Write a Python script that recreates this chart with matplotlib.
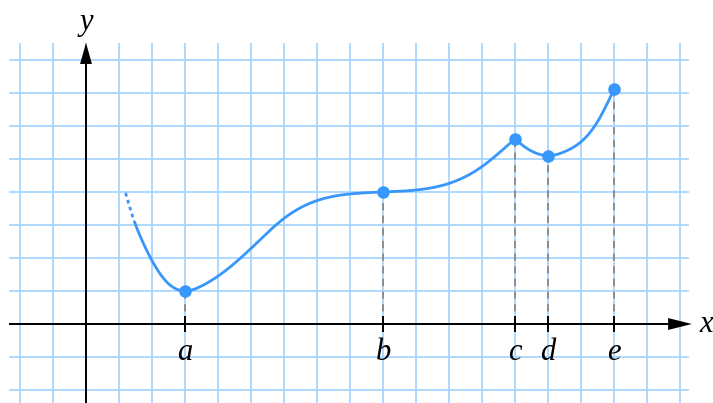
import numpy as np
import matplotlib
matplotlib.use("Agg")
import matplotlib.pyplot as plt
from matplotlib.patches import Polygon

# ---- data (grid units) ----
seg1_x = [1.2, 1.45, 1.69, 2.0, 2.44, 3.0, 3.5, 4.0, 5.0, 6.0, 7.0, 8.0, 9.0, 10.0, 11.0, 12.0, 12.5, 13.0]
seg1_y = [3.97, 3.15, 2.55, 1.92, 1.28, 1.0, 1.15, 1.45, 2.29, 3.2, 3.74, 3.94, 4.0, 4.06, 4.26, 4.77, 5.17, 5.61]
seg2_x = [13.0, 13.25, 13.5, 13.75, 14.0, 14.5, 15.0, 15.5, 16.0]
seg2_y = [5.61, 5.40, 5.24, 5.14, 5.1, 5.22, 5.52, 6.13, 7.11]
dotted_end = 1.45
point_labels = ["a", "b", "c", "d", "e"]
point_x = [3.0, 9.0, 13.0, 14.0, 16.0]
point_y = [1.0, 4.0, 5.61, 5.1, 7.11]

CURVE = "#3797fb"
GRID = "#a9d4fd"


def smooth(xs, ys, n=400):
    """Natural cubic spline through the read points (rendering only)."""
    x = np.asarray(xs, float); y = np.asarray(ys, float)
    k = len(x)
    h = np.diff(x)
    A = np.zeros((k, k)); r = np.zeros(k)
    A[0, 0] = A[-1, -1] = 1.0
    for i in range(1, k - 1):
        A[i, i - 1] = h[i - 1]
        A[i, i] = 2 * (h[i - 1] + h[i])
        A[i, i + 1] = h[i]
        r[i] = 6 * ((y[i + 1] - y[i]) / h[i] - (y[i] - y[i - 1]) / h[i - 1])
    M = np.linalg.solve(A, r)
    xx = np.linspace(x[0], x[-1], n)
    idx = np.clip(np.searchsorted(x, xx) - 1, 0, k - 2)
    x0, x1 = x[idx], x[idx + 1]
    hi = x1 - x0
    a = (x1 - xx) / hi; b = (xx - x0) / hi
    yy = (a * y[idx] + b * y[idx + 1]
          + ((a**3 - a) * M[idx] + (b**3 - b) * M[idx + 1]) * hi**2 / 6)
    return xx, yy


fig = plt.figure(figsize=(7.13, 4.03), dpi=100)
ax = fig.add_axes([0, 0, 1, 1])
ax.set_xlim(-86 / 33, (713 - 86) / 33)
ax.set_ylim((324 - 403) / 33, 324 / 33)
ax.axis("off")

# grid
gx0, gx1 = (10 - 86) / 33, (688 - 86) / 33
gy0, gy1 = (324 - 403) / 33, (324 - 44) / 33
for gx in range(-2, 19):
    ax.plot([gx, gx], [gy0, gy1], color=GRID, lw=1.3, zorder=1)
for gy in range(-2, 9):
    ax.plot([gx0, gx1], [gy, gy], color=GRID, lw=1.3, zorder=1)

# axes
ax.plot([gx0, 17.8], [0, 0], color="black", lw=1.4, zorder=3)
ax.plot([0, 0], [gy0, 8.0], color="black", lw=1.4, zorder=3)
ax.add_patch(Polygon([[18.36, 0], [17.64, 0.18], [17.64, -0.18]], closed=True,
                     color="black", zorder=4, lw=0))
ax.add_patch(Polygon([[0, 8.52], [-0.18, 7.88], [0.18, 7.88]], closed=True,
                     color="black", zorder=4, lw=0))

font = dict(family="Liberation Serif", style="italic", fontsize=22)
ax.text(18.8, 0.0, "x", ha="center", va="center", **font)
ax.text(0.0, 9.15, "y", ha="center", va="center", **font)

# curve
cx, cy = smooth(seg1_x, seg1_y)
dot = cx <= dotted_end
ax.plot(cx[dot], cy[dot], color=CURVE, lw=2.0, ls=(0, (1.3, 1.3)), zorder=5)
ax.plot(cx[~dot], cy[~dot], color=CURVE, lw=2.0, zorder=5, solid_capstyle="round")
cx2, cy2 = smooth(seg2_x, seg2_y)
ax.plot(cx2, cy2, color=CURVE, lw=2.0, zorder=5, solid_capstyle="round")

# guides, ticks, labels, points
for lab, px, py in zip(point_labels, point_x, point_y):
    ax.plot([px, px], [0, py], color="#888888", lw=1.3, ls=(0, (4, 3)), zorder=2)
    ax.plot([px, px], [-0.2, 0.2], color="black", lw=1.4, zorder=3)
    ax.text(px, -0.85, lab, ha="center", va="center", **font)
ax.plot(point_x, point_y, "o", color=CURVE, ms=8, zorder=6)

fig.savefig("out.png", dpi=100)
